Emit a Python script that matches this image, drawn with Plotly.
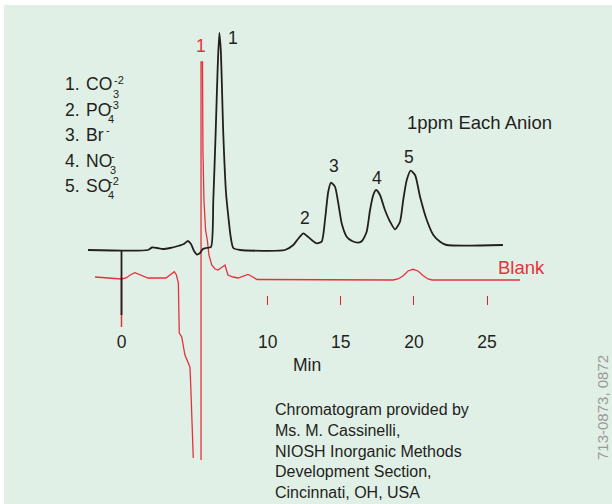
import plotly.graph_objects as go

# ---------------- data (minutes, detector response in arbitrary units) -------------
black_t = [-2.29, 1.81, 2.09, 2.43, 2.84, 3.32, 3.86, 4.27, 4.55, 4.75, 4.96, 5.16, 5.37,
           5.57, 5.78, 6.12, 6.28, 6.44, 6.58, 6.69, 6.79, 6.96, 7.15, 7.31, 7.47, 7.65,
           8.11, 11.18, 11.75, 12.07, 12.44, 12.69, 13.01, 13.35, 13.69, 13.92, 14.14,
           14.33, 14.60, 14.83, 15.06, 15.40, 15.77, 16.20, 16.45, 16.77, 17.00, 17.22,
           17.41, 17.68, 18.02, 18.37, 18.71, 19.05, 19.27, 19.51, 19.78, 20.08, 20.42,
           20.88, 21.33, 21.79, 22.24, 26.09]
black_r = [0, 0, 2.5, 2, 1, 2, 4, 6, 9, 6, -1, -4.5, -3, 1, 2, 3, 50, 117, 183, 217, 200,
           117, 57, 33, 13, 2, 0, 0, 5, 11, 16.7, 14, 10, 6.7, 8.3, 30, 58.3, 67.3, 63.3,
           46.7, 26.7, 13.3, 9, 7.3, 9, 18.3, 40, 55, 60, 55, 40, 28.3, 20.7, 28.3, 50, 70,
           79.3, 75, 53.3, 30, 15, 8.3, 5, 5]

red_t = [-1.81, 0.0, 0.31, 0.65, 0.92, 1.27, 1.81, 3.04, 3.39, 3.61, 3.76, 3.89, 3.95,
         4.12, 4.34, 4.68, 4.73, 4.80, 4.91, None, 5.44, 5.44, 5.54, 5.57, 5.64, 5.75,
         5.87, 5.98, 6.17, 6.40, 6.60, 6.81, 7.08, 7.28, 7.63, 7.97, 8.31, 8.65, 8.93,
         9.27, 18.57, 18.91, 19.25, 19.60, 19.94, 20.28, 20.62, 20.96, 21.24, 27.26]
red_r = [3, 1, 2, 5.5, 7.3, 5, 2, 2, 6, 8.3, 5, -3, -53, -57, -75, -87, -103, -127, -178,
         None, -180, 218, 218, 130, 80, 50, 40, 25, 15, 11, 10, 12, 15, 5, 3, 2, 4, 5.5,
         3.5, 0.5, 0, 1, 4, 9, 10.7, 9, 4.5, 1, 0, 0]

inject_t = [0, 0]
black_inject_r = [0, -65]
red_inject_r = [3, -47]

tick_vals = [0, 10, 15, 20, 25]
tick_text = ["0", "10", "15", "20", "25"]
blank_tick_vals = [10, 15, 20, 25]

peak_labels = ["1", "2", "3", "4", "5"]
peak_label_t = [7.62, 12.55, 14.53, 17.45, 19.68]
peak_label_r = [212, 32, 84, 72, 93]
blank_label_t = [5.44]
blank_label_r = [234]

legend_num = ["1.", "2.", "3.", "4.", "5."]
legend_ion = ["CO", "PO", "Br", "NO", "SO"]
legend_sub = ["3", "4", "", "3", "4"]
legend_sup = ["-2", "-3", "-", "-", "-2"]

credit_lines = ["Chromatogram provided by", "Ms. M. Cassinelli,",
                "NIOSH Inorganic Methods", "Development Section,",
                "Cincinnati, OH, USA"]

# ---------------- styling / layout constants ----------------
W, H = 612, 504
PX_PER_MIN = 14.62
X0_PX = 121.5
BLACK_OFFSET = 254
RED_OFFSET = 224
BLACK = "#231f20"
RED = "#e8303a"
BG = "#e1f0e6"
FONT = "Liberation Sans, Arial, sans-serif"

xr = [-X0_PX / PX_PER_MIN, (W - X0_PX) / PX_PER_MIN]


def off(vals, o):
    return [None if v is None else v + o for v in vals]


def px(xp, yp):
    return xp / W, 1 - yp / H


fig = go.Figure()
fig.add_trace(go.Scatter(x=red_t, y=off(red_r, RED_OFFSET), mode="lines",
                         line=dict(color=RED, width=1.3), connectgaps=False,
                         hoverinfo="skip"))
fig.add_trace(go.Scatter(x=inject_t, y=off(red_inject_r, RED_OFFSET), mode="lines",
                         line=dict(color=RED, width=1.5), hoverinfo="skip"))
fig.add_trace(go.Scatter(x=black_t, y=off(black_r, BLACK_OFFSET), mode="lines",
                         line=dict(color=BLACK, width=1.8, shape="spline", smoothing=0.6),
                         hoverinfo="skip"))
fig.add_trace(go.Scatter(x=inject_t, y=off(black_inject_r, BLACK_OFFSET), mode="lines",
                         line=dict(color=BLACK, width=1.8), hoverinfo="skip"))
# carrier trace for the blank's tick axis
fig.add_trace(go.Scatter(x=[None], y=[None], xaxis="x2", yaxis="y", mode="lines",
                         hoverinfo="skip"))

ann = []
for i, lab in enumerate(peak_labels):
    ann.append(dict(x=peak_label_t[i], y=peak_label_r[i] + BLACK_OFFSET, xref="x", yref="y",
                    text=lab, showarrow=False, font=dict(size=17.5, color=BLACK)))
ann.append(dict(x=blank_label_t[0], y=blank_label_r[0] + RED_OFFSET, xref="x", yref="y",
                text="1", showarrow=False, font=dict(size=17.5, color=RED)))

leg_y = [84.5, 109.5, 135, 160.5, 186]
ion_w = [27, 22, 17, 24, 22]
for i in range(5):
    x, y = px(63, leg_y[i])
    ann.append(dict(x=x, y=y, xref="paper", yref="paper", text=legend_num[i],
                    xanchor="left", yanchor="middle", showarrow=False,
                    font=dict(size=17.5, color=BLACK, family=FONT)))
    x, y = px(84, leg_y[i])
    ann.append(dict(x=x, y=y, xref="paper", yref="paper", text=legend_ion[i],
                    xanchor="left", yanchor="middle", showarrow=False,
                    font=dict(size=17.5, color=BLACK, family=FONT)))
    if legend_sub[i]:
        x, y = px(84 + ion_w[i], leg_y[i] + 9)
        ann.append(dict(x=x, y=y, xref="paper", yref="paper", text=legend_sub[i],
                        xanchor="left", yanchor="middle", showarrow=False,
                        font=dict(size=11, color=BLACK, family=FONT)))
    x, y = px(84 + ion_w[i] + (1 if legend_sub[i] else 3), leg_y[i] - 5)
    ann.append(dict(x=x, y=y, xref="paper", yref="paper", text=legend_sup[i],
                    xanchor="left", yanchor="middle", showarrow=False,
                    font=dict(size=11, color=BLACK, family=FONT)))

x, y = px(405, 122)
ann.append(dict(x=x, y=y, xref="paper", yref="paper", text="1ppm Each Anion",
                xanchor="left", yanchor="middle", showarrow=False,
                font=dict(size=18.5, color=BLACK, family=FONT)))
x, y = px(496, 267)
ann.append(dict(x=x, y=y, xref="paper", yref="paper", text="Blank",
                xanchor="left", yanchor="middle", showarrow=False,
                font=dict(size=18.5, color=RED, family=FONT)))
x, y = px(307, 365)
ann.append(dict(x=x, y=y, xref="paper", yref="paper", text="Min",
                xanchor="center", yanchor="middle", showarrow=False,
                font=dict(size=17.5, color=BLACK, family=FONT)))
x, y = px(273, 451)
ann.append(dict(x=x, y=y, xref="paper", yref="paper", text="<br>".join(credit_lines),
                xanchor="left", yanchor="middle", align="left", showarrow=False,
                font=dict(size=16, color=BLACK, family=FONT)))
x, y = px(602, 408)
ann.append(dict(x=x, y=y, xref="paper", yref="paper", text="713-0873, 0872",
                textangle=-90, xanchor="center", yanchor="middle", showarrow=False,
                font=dict(size=15, color="#9a9a9a", family=FONT)))

fig.update_layout(
    width=W, height=H, margin=dict(l=0, r=0, t=0, b=0),
    paper_bgcolor="white", plot_bgcolor="rgba(0,0,0,0)",
    showlegend=False, font=dict(family=FONT, color=BLACK),
    xaxis=dict(range=xr, domain=[0, 1], anchor="free", position=(H - 329) / H,
               showgrid=False, zeroline=False, showline=False, ticks="",
               tickvals=tick_vals, ticktext=tick_text,
               tickfont=dict(size=17.5, color=BLACK, family=FONT), fixedrange=True),
    xaxis2=dict(range=xr, domain=[0, 1], overlaying="x", anchor="free",
                position=(H - 305) / H, showgrid=False, zeroline=False, showline=False,
                ticks="inside", ticklen=9, tickwidth=1.4, tickcolor="#e8202a",
                tickvals=blank_tick_vals, showticklabels=False, fixedrange=True),
    yaxis=dict(range=[0, H], domain=[0, 1], visible=False, fixedrange=True),
    shapes=[dict(type="rect", xref="paper", yref="paper", x0=4 / W, x1=1, y0=0,
                 y1=(H - 5) / H, fillcolor=BG, line=dict(width=0), layer="below")],
    annotations=ann,
)

fig.write_html("out.html", config={"displayModeBar": False},
               post_script="document.body.style.margin='0';document.body.style.overflow='hidden';")
